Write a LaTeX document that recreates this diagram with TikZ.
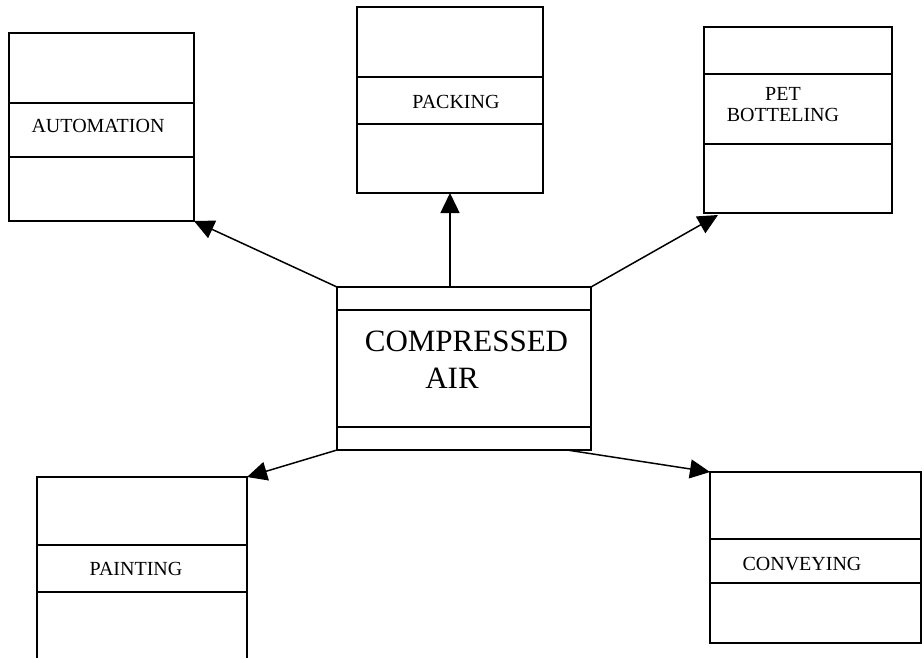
\documentclass[tikz,border=0pt]{standalone}
\usepackage{fontspec}
\setmainfont{Liberation Serif}
\usetikzlibrary{arrows.meta,calc}
\begin{document}
\begin{tikzpicture}[x=1pt,y=-1pt,
  box/.style={draw,line width=1.6pt,inner sep=0pt,outer sep=0pt},
  lbl/.style={inner sep=0pt,anchor=base,font=\fontsize{20}{16}\selectfont},
  biglbl/.style={inner sep=0pt,anchor=base,font=\fontsize{31}{34}\selectfont},
  sep/.style={line width=1.6pt},
  conn/.style={line width=1.5pt,-{Triangle[length=20pt,width=19pt]}}]
\clip (0,0) rectangle (924,657);
\fill[white] (0,0) rectangle (924,657);
% boxes
\node[box,minimum width=185pt,minimum height=188pt] (auto) at (101.5,127) {};
\node[box,minimum width=186pt,minimum height=186pt] (pack) at (450,100) {};
\node[box,minimum width=188pt,minimum height=186pt] (pet) at (798,120) {};
\node[box,minimum width=254pt,minimum height=163pt] (ca) at (464,368.5) {};
\node[box,minimum width=210pt,minimum height=203pt] (paint) at (142,578.5) {};
\node[box,minimum width=211pt,minimum height=171pt] (conv) at (815.5,557.5) {};
% dividers
\draw[sep] (auto.west |- 0,103) -- (auto.east |- 0,103);
\draw[sep] (auto.west |- 0,157) -- (auto.east |- 0,157);
\draw[sep] (pack.west |- 0,77) -- (pack.east |- 0,77);
\draw[sep] (pack.west |- 0,124) -- (pack.east |- 0,124);
\draw[sep] (pet.west |- 0,74) -- (pet.east |- 0,74);
\draw[sep] (pet.west |- 0,144) -- (pet.east |- 0,144);
\draw[sep] (ca.west |- 0,310) -- (ca.east |- 0,310);
\draw[sep] (ca.west |- 0,427) -- (ca.east |- 0,427);
\draw[sep] (paint.west |- 0,545) -- (paint.east |- 0,545);
\draw[sep] (paint.west |- 0,592) -- (paint.east |- 0,592);
\draw[sep] (conv.west |- 0,539) -- (conv.east |- 0,539);
\draw[sep] (conv.west |- 0,583) -- (conv.east |- 0,583);
% labels
\node[lbl] (tauto) at (98,132) {AUTOMATION};
\node[lbl] (tpack) at (456,108) {PACKING};
\node[lbl] (tpet1) at (783,100) {PET};
\node[lbl] (tpet2) at (783,121) {BOTTELING};
\node[biglbl] (tca1) at (466.5,351) {COMPRESSED};
\node[biglbl] (tca2) at (452,388) {AIR};
\node[lbl] (tpaint) at (136,575) {PAINTING};
\node[lbl] (tconv) at (802,570) {CONVEYING};
% connectors
\draw[conn] (ca.north west) -- (auto.south east);
\draw[conn] (pack.south |- ca.north) -- (pack.south);
\draw[conn] (ca.north east) -- ($(pet.south west)+(14,2)$);
\draw[conn] (ca.south west) -- (paint.north east);
\draw[conn] ($(ca.south east)+(-24,0)$) -- (conv.north west);
\end{tikzpicture}
\end{document}
